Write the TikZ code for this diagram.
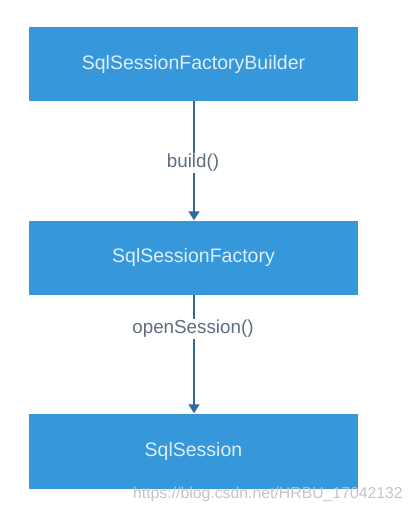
\documentclass[tikz,border=0pt]{standalone}
\usepackage{fontspec}
\setmainfont{Liberation Sans}
\usetikzlibrary{arrows.meta}
\definecolor{boxblue}{HTML}{3797DB}
\definecolor{boxtext}{HTML}{DCEFFB}
\definecolor{arrowc}{HTML}{2E6C9E}
\definecolor{labelc}{HTML}{5B6E82}
\definecolor{wmark}{HTML}{C4C4C4}
\begin{document}
\begin{tikzpicture}[x=1pt,y=-1pt,
  blockbox/.style={fill=boxblue, draw=none, minimum width=329pt, minimum height=74pt,
    text=boxtext, font=\fontsize{19.5}{22}\selectfont, inner sep=0pt},
  flowarrow/.style={draw=arrowc, line width=1.3pt, -{Triangle[width=11pt,length=9pt]}},
  lbl/.style={fill=white, text=labelc, font=\fontsize{18.8}{22}\selectfont, inner sep=1.5pt}
]
\useasboundingbox (0,0) rectangle (414,512);
\node[blockbox] (b1) at (193.5,64) {\raisebox{-2.5pt}{SqlSessionFactoryBuilder}};
\node[blockbox, minimum height=74pt] (b2) at (193.5,257.5) {\raisebox{-2.5pt}{SqlSessionFactory}};
\node[blockbox, minimum height=75pt] (b3) at (193.5,451) {\raisebox{-2.5pt}{SqlSession}};
\draw[flowarrow] (b1.south -| 194,0) -- (b2.north -| 194,0);
\draw[flowarrow] (b2.south -| 194,0) -- (b3.north -| 194,0);
\node[lbl] (l1) at (193,163) {build()};
\node[lbl] (l2) at (193,329) {openSession()};
\node[text=wmark, font=\fontsize{15.8}{18}\selectfont, anchor=east, inner sep=0pt] (wm) at (403,494) {https://blog.csdn.net/HRBU\_17042132};
\end{tikzpicture}
\end{document}
